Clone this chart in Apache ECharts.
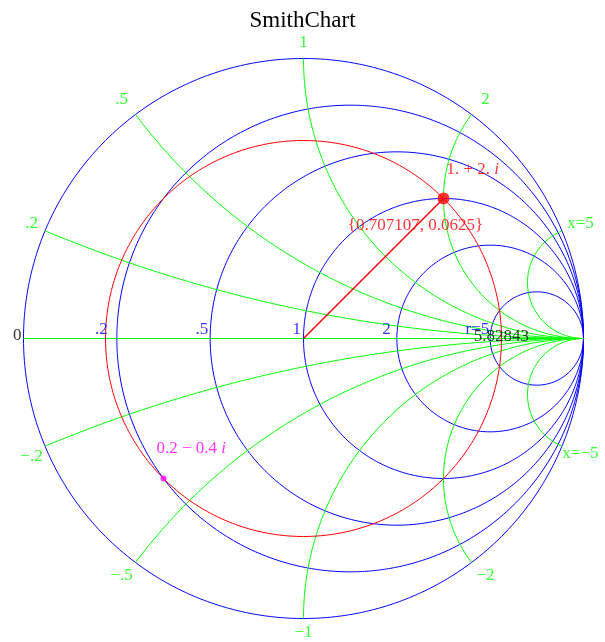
<!DOCTYPE html>
<html>
<head>
<meta charset="utf-8">
<script src="https://cdn.jsdelivr.net/npm/echarts@6/dist/echarts.min.js"></script>
<style>html,body{margin:0;padding:0;background:#fff}#c{width:605px;height:642px}</style>
</head>
<body>
<div id="c"></div>
<script>
// ---- data ----
const titleText = 'SmithChart';
const rValues = [0, 0.2, 0.5, 1, 2, 5];
const rLabels = ['0', '.2', '.5', '1', '2', 'r=5'];
const xValues = [0.2, 0.5, 1, 2, 5, -0.2, -0.5, -1, -2, -5];
const xLabels = ['.2', '.5', '1', '2', 'x=5', '\u2212.2', '\u2212.5', '\u22121', '\u22122', 'x=\u22125'];
const markedZ = [1, 2];            // 1. + 2. i
const markedText = ['1. + 2. ', 'i'];
const gammaText = '{0.707107, 0.0625}';
const vswrText = '5.82843';
const secondZ = [0.2, -0.4];       // 0.2 - 0.4 i
const secondText = ['0.2 \u2212 0.4 ', 'i'];

// ---- label placement (pixel offsets, style only) ----
const rLabelOffsets = [[-2, -3], [-9, -9], [-2, -9], [-2.5, -9], [-6, -9], [-1, -9]];
const xLabelOffsets = [[-13.5, -7.5], [-14, -14.5], [0, -16], [14, -14.5], [18.5, -7.5],
                       [-13.5, 10.5], [-14, 13.5], [0, 14], [14, 13.5], [18.5, 7.5]];

// ---- geometry helpers ----
function gamma(r, x) {
  const d = (r + 1) * (r + 1) + x * x;
  return [(r * r - 1 + x * x) / d, 2 * x / d];
}
function circlePts(cx, cy, rad) {
  const pts = [];
  for (let i = 0; i <= 720; i++) {
    const t = i / 720 * 2 * Math.PI;
    pts.push([cx + rad * Math.cos(t), cy + rad * Math.sin(t)]);
  }
  return pts;
}
function xArcPts(x) {
  const cx = 1, cy = 1 / x, rad = 1 / Math.abs(x);
  const p = gamma(0, x);
  const a0 = Math.atan2(-cy, 0);
  let a1 = Math.atan2(p[1] - cy, p[0] - cx);
  let d = a1 - a0;
  while (d > Math.PI) d -= 2 * Math.PI;
  while (d < -Math.PI) d += 2 * Math.PI;
  const pts = [];
  const n = 400;
  for (let i = 0; i <= n; i++) {
    const t = a0 + d * i / n;
    pts.push([cx + rad * Math.cos(t), cy + rad * Math.sin(t)]);
  }
  return pts;
}

const BLUE = '#0000ff', GREEN = '#00ff00', RED = '#ff0000', MAG = '#ff00ff';
const FONT = '"Liberation Serif", "Times New Roman", serif';
const LFS = 17;

const series = [];
function lineS(data, color, w) {
  return { type: 'line', data, showSymbol: false, symbol: 'none', clip: false, silent: true,
    color: color, itemStyle: { color }, lineStyle: { color, width: w || 1 }, animation: false, z: 2 };
}
rValues.forEach(r => series.push(lineS(circlePts(r / (1 + r), 0, 1 / (1 + r)), BLUE)));
series.push(lineS([gamma(0, 0), gamma(1e9, 0)], GREEN));
xValues.forEach(x => series.push(lineS(xArcPts(x), GREEN)));
const g1 = gamma(markedZ[0], markedZ[1]);
const g2 = gamma(secondZ[0], secondZ[1]);
const mag1 = Math.hypot(g1[0], g1[1]);
series.push(lineS(circlePts(0, 0, mag1), RED));
series.push(lineS([[0, 0], g1], RED, 1.4));

series.push({ type: 'scatter', data: [g1], symbolSize: 12, itemStyle: { color: RED }, silent: true, animation: false, z: 5 });
series.push({ type: 'scatter', data: [g2], symbolSize: 6, itemStyle: { color: MAG }, silent: true, animation: false, z: 5 });

function labS(pos, text, color, opts) {
  series.push({
    type: 'scatter', silent: true, animation: false, z: 10,
    symbol: 'circle', symbolSize: 0.01, itemStyle: { color: 'rgba(255,255,255,0)', borderWidth: 0 },
    labelLine: { show: false },
    data: [{ value: pos }],
    label: Object.assign({ show: true, formatter: text, color, position: 'inside',
      fontFamily: FONT, fontSize: LFS, align: 'center', verticalAlign: 'middle' }, opts || {})
  });
}
rValues.forEach((r, i) => {
  labS(gamma(r, 0), rLabels[i], r === 0 ? '#000' : BLUE, { align: 'right', offset: rLabelOffsets[i] });
});
xValues.forEach((x, i) => {
  labS(gamma(0, x), xLabels[i], GREEN, { offset: xLabelOffsets[i] });
});
labS([mag1, 0], vswrText, '#000', { offset: [0, -2] });
labS(g1, '{a|' + markedText[0] + '}{b|' + markedText[1] + '}', RED,
  { align: 'left', offset: [3, -29], rich: { a: { fontFamily: FONT, fontSize: LFS, color: RED }, b: { fontFamily: FONT, fontSize: LFS, color: RED, fontStyle: 'italic' } } });
labS(g1, gammaText, RED, { offset: [-28, 27] });
labS(g2, '{a|' + secondText[0] + '}{b|' + secondText[1] + '}', MAG,
  { align: 'left', offset: [-7, -30], rich: { a: { fontFamily: FONT, fontSize: LFS, color: MAG }, b: { fontFamily: FONT, fontSize: LFS, color: MAG, fontStyle: 'italic' } } });

const chart = echarts.init(document.getElementById('c'), null, { renderer: 'canvas' });
chart.setOption({
  animation: false,
  backgroundColor: '#fff',
  title: { text: titleText, left: 'center', top: 4,
    textStyle: { fontFamily: FONT, fontSize: 23, fontWeight: 'normal', color: '#000' } },
  grid: { left: 23.5, right: 21.5, top: 58.5, bottom: 23.5, containLabel: false },
  xAxis: { type: 'value', min: -1, max: 1, show: false },
  yAxis: { type: 'value', min: -1, max: 1, show: false },
  series
});
</script>
</body>
</html>
